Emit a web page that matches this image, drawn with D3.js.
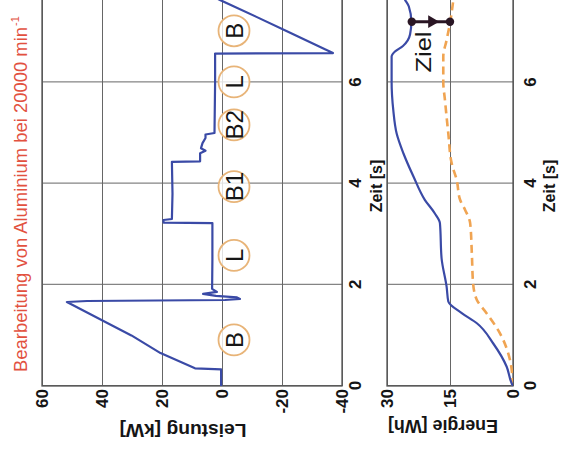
<!DOCTYPE html>
<html>
<head>
<meta charset="utf-8">
<script src="https://cdn.jsdelivr.net/npm/d3@7"></script>
<style>
body { margin: 0; background: #fff; }
svg { display: block; font-family: "Liberation Sans", Arial, sans-serif; }
</style>
</head>
<body>
<svg id="chart" width="561" height="449"></svg>
<script>
// ticks
const timeTicks = [0, 2, 4, 6]
const powerTicks = [60, 40, 20, 0, -20, -40]
const energyTicks = [30, 15, 0]

// Leistung [kW] over Zeit [s]
const powerT = [0, 0.33, 0.35, 0.65, 1.0, 1.3, 1.66, 1.68, 1.70, 1.72, 1.75, 1.78, 1.82, 1.86, 1.92, 2.5, 3.22, 3.23, 3.28, 3.3, 3.8, 4.43, 4.44, 4.6, 4.65, 4.7, 4.8, 4.9, 4.97, 5.0, 6.0, 6.57, 6.58, 6.65, 7.0, 7.3, 7.63, 7.8]
const powerKW = [0.3, 0.3, 9, 20.5, 30.2, 40, 51.7, 45, -1, -6, -5, 2, 6.3, 1.7, 3.3, 3.2, 3.2, 19.5, 19.5, 16.7, 16.5, 16.7, 7.3, 7.3, 5.5, 7, 6.5, 5.5, 5.5, 2.5, 2.3, 2.3, -37, -34.5, -22, -11.3, 0.7, 6.5]

// Energie [Wh], blue solid line
const energyT = [0, 0.05, 0.38, 0.84, 1.24, 1.44, 1.67, 1.96, 2.52, 3.22, 3.41, 3.68, 4.14, 4.6, 4.99, 5.45, 6.01, 6.51, 6.61, 6.72, 6.95, 7.2, 7.5, 7.63, 7.75]
const energyWh = [0, 0.3, 1.5, 4.7, 8.6, 12.2, 15.4, 15.8, 17.0, 17.4, 18.6, 21.0, 23.7, 26.1, 27.7, 28.5, 28.9, 28.9, 28.1, 26.2, 24.5, 24.2, 24.8, 25.7, 26.5]

// Energie [Wh], orange dashed line
const targetT = [0, 0.51, 1.04, 1.44, 1.70, 2.03, 2.62, 3.22, 3.48, 3.68, 4.07, 4.4, 4.99, 5.65, 6.01, 6.51, 6.84, 7.17, 7.63, 7.75]
const targetWh = [0, 0.7, 3.1, 6.3, 8.6, 9.5, 9.8, 10.2, 11.4, 12.6, 13.4, 14.6, 15.4, 16.2, 16.6, 16.6, 15.8, 15.0, 14.2, 14.0]

// phase markers in the Leistung panel
const phaseLabels = ['B', 'L', 'B1', 'B2', 'L', 'B']
const phaseT = [0.91, 2.58, 3.94, 5.16, 6.01, 7.02]
const phaseKW = -4

// Ziel arrow
const zielT = 7.2
const zielFromWh = 24.1
const zielToWh = 15.0
const zielHeadWh = 18.6

const blue = '#3a4aa6'
const orange = '#f0a452'

const svg = d3.select('#chart')
// drawn upright, then turned a quarter turn counter-clockwise like the scan
const g = svg.append('g').attr('transform', 'translate(0,449) rotate(-90)')

const x = d3.scaleLinear().domain([0, 8]).range([63, 467.8])
const yP = d3.scaleLinear().domain([-40, 60]).range([342, 42])
const yE = d3.scaleLinear().domain([0, 30]).range([513, 387])

function panel(y, ticks, timePad, id) {
    const bottom = y.range()[0], top = y.range()[1]
    const left = x.range()[0], right = x.range()[1]
    const p = g.append('g')

    const ya = p.append('g')
        .attr('transform', `translate(${left},0)`)
        .call(d3.axisLeft(y).tickValues(ticks).tickSize(-(right - left)).tickPadding(3).tickFormat(d => String(d)))
    const xa = p.append('g')
        .attr('transform', `translate(0,${bottom})`)
        .call(d3.axisBottom(x).tickValues(timeTicks).tickSize(-(bottom - top)).tickPadding(timePad))

    for (const a of [ya, xa]) {
        a.select('.domain').remove()
        a.selectAll('line').attr('stroke', '#666').attr('stroke-width', 1)
        a.selectAll('text').attr('fill', '#151515').attr('font-size', 17).attr('font-weight', 'bold')
    }

    p.append('rect')
        .attr('x', left).attr('y', top)
        .attr('width', right - left).attr('height', bottom - top)
        .attr('fill', 'none').attr('stroke', '#555').attr('stroke-width', 1.3)

    g.append('clipPath').attr('id', id)
        .append('rect')
        .attr('x', left).attr('y', top)
        .attr('width', right - left).attr('height', bottom - top)
    return p
}

panel(yP, powerTicks, 7, 'clipP')
panel(yE, energyTicks, 11, 'clipE')

// lines
g.append('path')
    .datum(d3.zip(powerT, powerKW))
    .attr('clip-path', 'url(#clipP)')
    .attr('fill', 'none').attr('stroke', blue).attr('stroke-width', 2.2)
    .attr('stroke-linejoin', 'round')
    .attr('d', d3.line().x(d => x(d[0])).y(d => yP(d[1])))

g.append('path')
    .datum(d3.zip(targetT, targetWh))
    .attr('clip-path', 'url(#clipE)')
    .attr('fill', 'none').attr('stroke', orange).attr('stroke-width', 2.6)
    .attr('stroke-dasharray', '8,5')
    .attr('d', d3.line().curve(d3.curveMonotoneX).x(d => x(d[0])).y(d => yE(d[1])))

g.append('path')
    .datum(d3.zip(energyT, energyWh))
    .attr('clip-path', 'url(#clipE)')
    .attr('fill', 'none').attr('stroke', blue).attr('stroke-width', 2.2)
    .attr('d', d3.line().curve(d3.curveMonotoneX).x(d => x(d[0])).y(d => yE(d[1])))

// phase circles
const ph = g.selectAll('.phase').data(phaseLabels).enter().append('g')
    .attr('transform', (d, i) => `translate(${x(phaseT[i])},${yP(phaseKW)})`)
ph.append('circle').attr('r', 15.5)
    .attr('fill', '#fff').attr('fill-opacity', 0.8)
    .attr('stroke', '#e8b478').attr('stroke-width', 1.8)
ph.append('text').text(d => d)
    .attr('text-anchor', 'middle').attr('dy', '0.36em')
    .attr('font-size', 24).attr('fill', '#161616')

// Ziel arrow
const zx = x(zielT)
g.append('line')
    .attr('x1', zx).attr('x2', zx)
    .attr('y1', yE(zielFromWh)).attr('y2', yE(zielToWh))
    .attr('stroke', '#2a1624').attr('stroke-width', 3)
g.selectAll('.zdot').data([zielFromWh, zielToWh]).enter().append('circle')
    .attr('cx', zx).attr('cy', d => yE(d)).attr('r', 4.2).attr('fill', '#2a1624')
g.append('path')
    .attr('d', d3.symbol(d3.symbolTriangle, 70)())
    .attr('transform', `translate(${zx},${yE(zielHeadWh) - 3}) rotate(180)`)
    .attr('fill', '#2a1624')
g.append('text').text('Ziel')
    .attr('x', 397).attr('y', 431)
    .attr('text-anchor', 'middle')
    .attr('textLength', 41).attr('lengthAdjust', 'spacingAndGlyphs')
    .attr('font-size', 22).attr('fill', '#161616')

// labels
g.append('text').text('Bearbeitung von Aluminium bei 20000 min')
    .attr('x', 77).attr('y', 27)
    .attr('textLength', 345).attr('lengthAdjust', 'spacingAndGlyphs')
    .attr('font-size', 19).attr('fill', '#e2513f')
g.append('text').text('-1')
    .attr('x', 423).attr('y', 19)
    .attr('font-size', 11).attr('fill', '#e2513f')

g.append('text').text('Leistung [kW]')
    .attr('transform', `translate(25,${(yP.range()[0] + yP.range()[1]) / 2 - 9}) rotate(-90)`)
    .attr('text-anchor', 'middle')
    .attr('textLength', 127).attr('lengthAdjust', 'spacingAndGlyphs')
    .attr('font-size', 18).attr('font-weight', 'bold').attr('fill', '#151515')
g.append('text').text('Energie [Wh]')
    .attr('transform', `translate(29,${(yE.range()[0] + yE.range()[1]) / 2 - 7}) rotate(-90)`)
    .attr('text-anchor', 'middle')
    .attr('textLength', 110).attr('lengthAdjust', 'spacingAndGlyphs')
    .attr('font-size', 18).attr('font-weight', 'bold').attr('fill', '#151515')

for (const yb of [382, 555]) {
    g.append('text').text('Zeit [s]')
        .attr('x', 263).attr('y', yb)
        .attr('text-anchor', 'middle')
        .attr('font-size', 16).attr('font-weight', 'bold').attr('fill', '#151515')
}
</script>
</body>
</html>
